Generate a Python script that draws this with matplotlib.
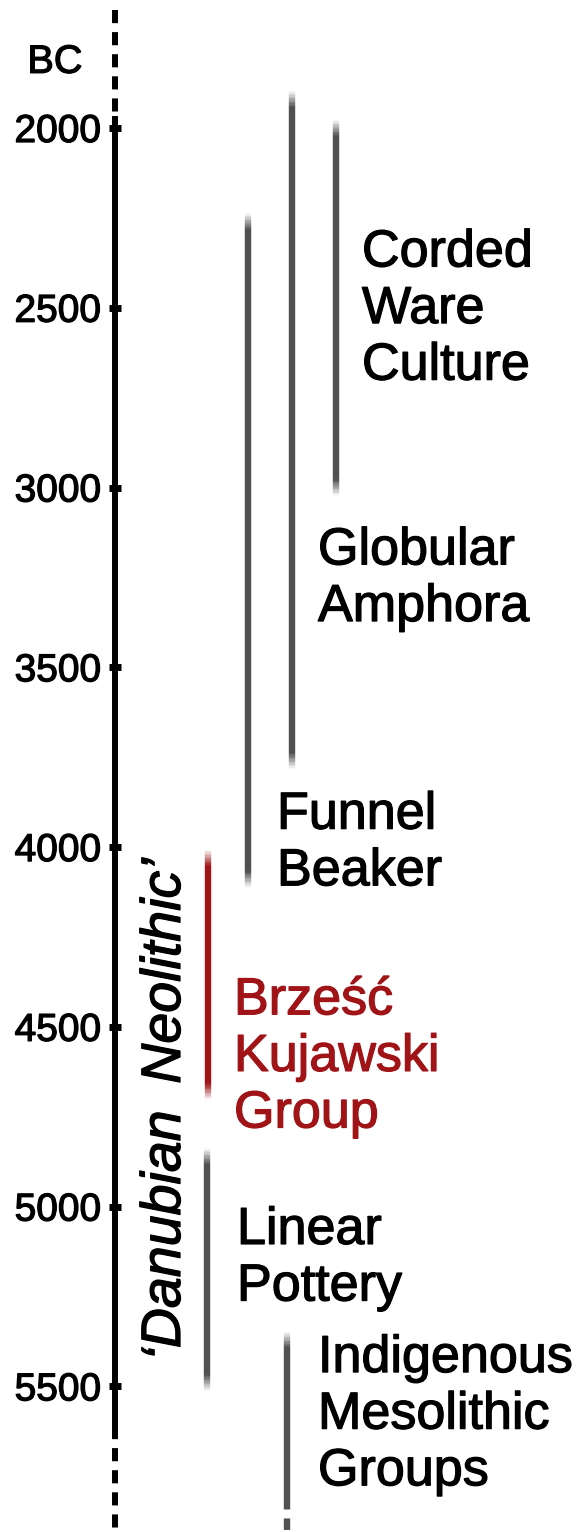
import matplotlib.pyplot as plt
import matplotlib.patheffects as pe
from matplotlib.collections import LineCollection
from matplotlib.colors import to_rgba

plt.rcParams['font.family'] = ['Liberation Sans', 'DejaVu Sans']

# data: culture periods in years BC
cultures = ['Corded\nWare\nCulture', 'Globular\nAmphora', 'Funnel\nBeaker',
            'Brześć\nKujawski\nGroup', 'Linear\nPottery',
            'Indigenous\nMesolithic\nGroups']
start_bc = [2000, 1920, 2260, 4030, 4860, 5370]
end_bc = [3000, 3760, 4090, 4680, 5490, 5810]
tick_years = [2000, 2500, 3000, 3500, 4000, 4500, 5000, 5500]

# layout (x in pixels of the figure)
bar_x = [336, 292, 248, 208, 207, 287]
label_x = [362, 318, 277, 234, 237, 318]
label_y = [2505, 3255, 3990, 4585, 5145, 5580]
GRAY = '#505050'
RED = '#a01418'
bar_colors = [GRAY, GRAY, GRAY, RED, GRAY, GRAY]
label_colors = ['black', 'black', 'black', RED, 'black', 'black']

Y_TOP, Y_BOT = 1644, 5905
BAR_LW = 4.6


def bold_fx(color):
    # thicken strokes a little, the original glyphs look heavy
    return [pe.withStroke(linewidth=0.9, foreground=color)]


def fade_piece(ax, x, ya, yb, color, n=12):
    # short ramp from transparent (ya) to solid (yb)
    segs, cols = [], []
    r, g, b, _ = to_rgba(color)
    for i in range(n):
        s = ya + (yb - ya) * i / n
        e = ya + (yb - ya) * (i + 1) / n
        segs.append([(x, s), (x, e)])
        cols.append((r, g, b, (i + 0.5) / n))
    ax.add_collection(LineCollection(segs, colors=cols, linewidths=BAR_LW,
                                     capstyle='butt'))


def faded_bar(ax, x, y0, y1, color, fade=45, fade_bottom=True):
    h = fade / 2
    bot = y1 - h if fade_bottom else y1
    ax.plot([x, x], [y0 + h, bot], color=color, lw=BAR_LW,
            solid_capstyle='butt')
    fade_piece(ax, x, y0 - h, y0 + h, color)
    if fade_bottom:
        fade_piece(ax, x, y1 + h, y1 - h, color)


fig = plt.figure(figsize=(5.79, 15.32), dpi=100)
ax = fig.add_axes([0, 0, 1, 1])
ax.set_xlim(0, 579)
ax.set_ylim(Y_BOT, Y_TOP)

# time axis
for side in ['top', 'right', 'bottom']:
    ax.spines[side].set_visible(False)
ax.spines['left'].set_position(('data', 115))
ax.spines['left'].set_linewidth(4.3)
ax.spines['left'].set_bounds(1975, 5610)
ax.set_xticks([])
ax.set_yticks(tick_years)
ax.set_yticklabels([str(t) for t in tick_years])
ax.tick_params(axis='y', direction='inout', length=8, width=5, pad=6,
               labelsize=28)
for lbl in ax.get_yticklabels():
    lbl.set_path_effects(bold_fx('black'))
ax.plot([115, 115], [1672, 1975], color='black', lw=4.3,
        linestyle=(0, (2.2, 1.5)), dash_capstyle='butt')
ax.plot([115, 115], [5610, Y_BOT], color='black', lw=4.3,
        linestyle=(0, (2.2, 1.5)), dash_capstyle='butt')
ax.text(55, 1816, 'BC', fontsize=28.5, ha='center', va='center',
        path_effects=bold_fx('black'))

for i, name in enumerate(cultures):
    last = (i == len(cultures) - 1)
    faded_bar(ax, bar_x[i], start_bc[i], end_bc[i], bar_colors[i],
              fade_bottom=not last)
    ax.text(label_x[i], label_y[i], name, fontsize=37.5,
            color=label_colors[i], ha='left', va='center', linespacing=1.2,
            path_effects=bold_fx(label_colors[i]))

# mesolithic groups continue beyond the chart
ax.plot([bar_x[-1], bar_x[-1]], [end_bc[-1], Y_BOT], color=GRAY, lw=BAR_LW,
        linestyle=(0, (1.8, 1.4)), dash_capstyle='butt')

ax.text(166, 4730, '\u2018Danubian \u2009Neolithic\u2019', fontsize=40,
        style='italic', rotation=90, ha='center', va='center',
        path_effects=bold_fx('black'))

fig.savefig('out.png', dpi=100)
